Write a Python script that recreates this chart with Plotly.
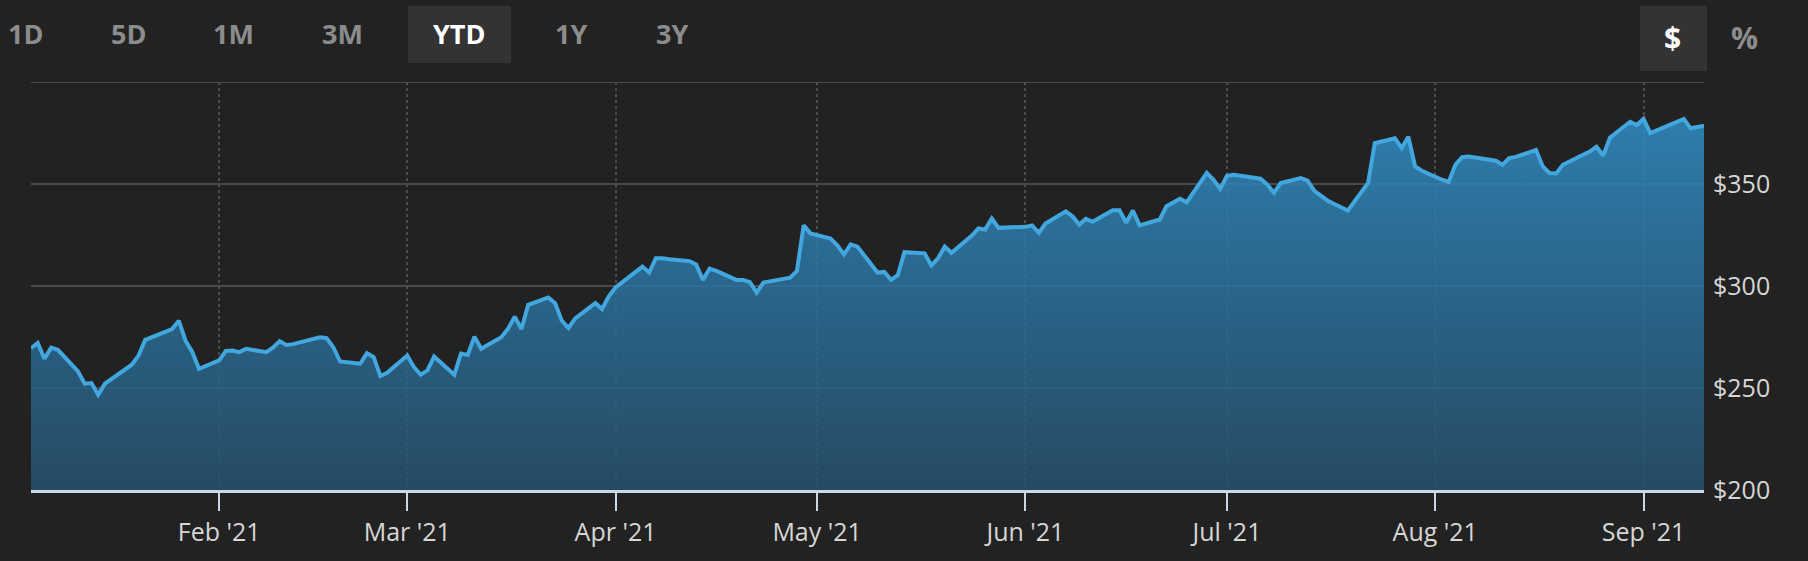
import plotly.graph_objects as go

# ---------------- data ----------------
dates = [
    "2021-01-04", "2021-01-05", "2021-01-06", "2021-01-07", "2021-01-08",
    "2021-01-11", "2021-01-12", "2021-01-13", "2021-01-14", "2021-01-15",
    "2021-01-19", "2021-01-20", "2021-01-21", "2021-01-22", "2021-01-25",
    "2021-01-26", "2021-01-27", "2021-01-28", "2021-01-29",
    "2021-02-01", "2021-02-02", "2021-02-03", "2021-02-04", "2021-02-05",
    "2021-02-08", "2021-02-09", "2021-02-10", "2021-02-11", "2021-02-12",
    "2021-02-16", "2021-02-17", "2021-02-18", "2021-02-19", "2021-02-22",
    "2021-02-23", "2021-02-24", "2021-02-25", "2021-02-26",
    "2021-03-01", "2021-03-02", "2021-03-03", "2021-03-04", "2021-03-05",
    "2021-03-08", "2021-03-09", "2021-03-10", "2021-03-11", "2021-03-12",
    "2021-03-15", "2021-03-16", "2021-03-17", "2021-03-18", "2021-03-19",
    "2021-03-22", "2021-03-23", "2021-03-24", "2021-03-25", "2021-03-26",
    "2021-03-29", "2021-03-30", "2021-03-31",
    "2021-04-01", "2021-04-05", "2021-04-06", "2021-04-07", "2021-04-08",
    "2021-04-09", "2021-04-12", "2021-04-13", "2021-04-14", "2021-04-15",
    "2021-04-16", "2021-04-19", "2021-04-20", "2021-04-21", "2021-04-22",
    "2021-04-23", "2021-04-26", "2021-04-27", "2021-04-28", "2021-04-29",
    "2021-04-30",
    "2021-05-03", "2021-05-04", "2021-05-05", "2021-05-06", "2021-05-07",
    "2021-05-10", "2021-05-11", "2021-05-12", "2021-05-13", "2021-05-14",
    "2021-05-17", "2021-05-18", "2021-05-19", "2021-05-20", "2021-05-21",
    "2021-05-24", "2021-05-25", "2021-05-26", "2021-05-27", "2021-05-28",
    "2021-06-01", "2021-06-02", "2021-06-03", "2021-06-04", "2021-06-07",
    "2021-06-08", "2021-06-09", "2021-06-10", "2021-06-11", "2021-06-14",
    "2021-06-15", "2021-06-16", "2021-06-17", "2021-06-18", "2021-06-21",
    "2021-06-22", "2021-06-23", "2021-06-24", "2021-06-25", "2021-06-28",
    "2021-06-29", "2021-06-30",
    "2021-07-01", "2021-07-02", "2021-07-06", "2021-07-07", "2021-07-08",
    "2021-07-09", "2021-07-12", "2021-07-13", "2021-07-14", "2021-07-15",
    "2021-07-16", "2021-07-19", "2021-07-20", "2021-07-21", "2021-07-22",
    "2021-07-23", "2021-07-26", "2021-07-27", "2021-07-28", "2021-07-29",
    "2021-07-30",
    "2021-08-02", "2021-08-03", "2021-08-04", "2021-08-05", "2021-08-06",
    "2021-08-09", "2021-08-10", "2021-08-11", "2021-08-12", "2021-08-13",
    "2021-08-16", "2021-08-17", "2021-08-18", "2021-08-19", "2021-08-20",
    "2021-08-23", "2021-08-24", "2021-08-25", "2021-08-26", "2021-08-27",
    "2021-08-30", "2021-08-31",
    "2021-09-01", "2021-09-02", "2021-09-03", "2021-09-07", "2021-09-08",
    "2021-09-09", "2021-09-10",
]

prices = [
    269.5, 272.1, 264.3, 269.8, 268.7,
    258.1, 252.1, 252.4, 246.7, 252.1,
    261.4, 265.9, 273.6, 275.0, 278.9,
    283.0, 273.2, 267.7, 259.4,
    263.5, 268.2, 268.4, 267.6, 269.2,
    267.6, 269.8, 272.9, 271.1, 271.5,
    274.9, 274.4, 270.0, 263.0, 261.9,
    267.1, 265.1, 255.9, 257.5,
    265.9, 260.2, 256.5, 258.6, 265.4,
    256.5, 266.9, 266.2, 275.2, 269.2,
    274.9, 279.1, 284.9, 278.9, 290.8,
    294.4, 291.6, 283.0, 279.4, 284.1,
    291.6, 288.7, 294.9,
    299.3, 309.5, 306.6, 313.6, 313.6,
    313.1, 312.2, 310.6, 303.0, 308.5,
    307.4, 303.0, 303.0, 301.9, 296.8,
    301.7, 303.5, 304.1, 307.4, 329.8,
    325.8,
    323.2, 319.9, 315.5, 320.4, 319.3,
    306.6, 306.9, 303.0, 305.3, 316.6,
    316.0, 310.1, 313.6, 319.3, 316.3,
    324.6, 328.2, 327.7, 333.1, 328.5,
    329.0, 329.7, 326.1, 330.6, 336.6,
    334.2, 330.1, 332.9, 331.5, 337.1,
    337.1, 331.0, 337.0, 329.7, 332.6,
    339.1, 340.9, 342.8, 341.0, 355.4,
    352.1, 347.6,
    354.0, 354.5, 352.6, 349.7, 345.6,
    350.5, 352.9, 351.7, 346.6, 344.0,
    341.8, 337.0, 341.5, 346.1, 350.5,
    370.0, 372.4, 367.6, 373.2, 358.6,
    356.5,
    352.1, 351.0, 359.4, 363.2, 363.5,
    361.9, 361.4, 359.4, 362.7, 363.3,
    366.7, 358.6, 355.4, 355.2, 359.4,
    364.3, 365.9, 368.3, 364.0, 372.7,
    380.5, 378.9,
    381.9, 374.9, 376.2, 381.9, 377.3,
    378.0, 378.6,
]

range_buttons = ["1D", "5D", "1M", "3M", "YTD", "1Y", "3Y"]
active_range = "YTD"
unit_buttons = ["$", "%"]
active_unit = "$"

y_tick_values = [200, 250, 300, 350, 400]
y_tick_labels = ["$200", "$250", "$300", "$350", ""]

month_ticks = ["2021-02-01", "2021-03-01", "2021-04-01", "2021-05-01",
               "2021-06-01", "2021-07-01", "2021-08-01", "2021-09-01"]
month_labels = ["Feb '21", "Mar '21", "Apr '21", "May '21",
                "Jun '21", "Jul '21", "Aug '21", "Sep '21"]

x_range = ["2021-01-04", "2021-09-10"]
y_range = [200, 400]

# ---------------- layout geometry (pixels) ----------------
W, H = 1808, 561
L, R, T, B = 31, 1704, 82, 490
BG = "#222222"
GRID = "#4a4a4a"
FONT = "Open Sans, Noto Sans, DejaVu Sans, sans-serif"


def px_x(x):
    return (x - L) / (R - L)


def px_y(y):
    return (B - y) / (B - T)


fig = go.Figure()
fig.add_trace(go.Scatter(
    x=dates, y=prices, mode="lines",
    line=dict(color="#42a7df", width=4),
    fill="tozeroy",
    fillgradient=dict(
        type="vertical",
        start=200, stop=392,
        colorscale=[[0, "rgba(38,82,111,0.84)"], [1, "rgba(48,143,200,0.86)"]],
    ),
    hoverinfo="skip",
    showlegend=False,
))

# button boxes and labels
range_centers = [25, 128, 233, 342, 459, 571, 672]
unit_centers = [1672, 1744]
shapes = [
    dict(type="rect", xref="paper", yref="paper",
         x0=px_x(408), x1=px_x(511), y0=px_y(63), y1=px_y(6),
         fillcolor="#333333", line=dict(width=0), layer="below"),
    dict(type="rect", xref="paper", yref="paper",
         x0=px_x(1640), x1=px_x(1707), y0=px_y(71), y1=px_y(6),
         fillcolor="#333333", line=dict(width=0), layer="below"),
    # top gridline at the upper end of the value range (plotly drops edge gridlines)
    dict(type="line", xref="paper", yref="y", x0=0, x1=1,
         y0=y_range[1], y1=y_range[1],
         line=dict(color=GRID, width=2), layer="below"),
]
annotations = []
for lab, cx in zip(range_buttons, range_centers):
    annotations.append(dict(
        text=f"<b>{lab}</b>", xref="paper", yref="paper",
        x=px_x(cx), y=px_y(34), xanchor="center", yanchor="middle",
        showarrow=False,
        font=dict(family=FONT, size=27,
                  color="#ffffff" if lab == active_range else "#8c8c8c"),
    ))
for lab, cx in zip(unit_buttons, unit_centers):
    annotations.append(dict(
        text=f"<b>{lab}</b>", xref="paper", yref="paper",
        x=px_x(cx), y=px_y(38), xanchor="center", yanchor="middle",
        showarrow=False,
        font=dict(family=FONT, size=30,
                  color="#ffffff" if lab == active_unit else "#8c8c8c"),
    ))

fig.update_layout(
    width=W, height=H, autosize=False,
    paper_bgcolor=BG, plot_bgcolor=BG,
    margin=dict(l=L, r=W - R, t=T, b=H - B, pad=0),
    shapes=shapes, annotations=annotations,
    font=dict(family=FONT, color="#d6d6d6", size=25),
    showlegend=False,
)
fig.update_xaxes(
    type="date", range=x_range,
    tickmode="array", tickvals=month_ticks, ticktext=month_labels,
    ticks="outside", ticklen=18, tickwidth=2, tickcolor="#cbd9e6",
    showline=True, linecolor="#cbd9e6", linewidth=3,
    showgrid=True, gridcolor="#4c4c4c", gridwidth=1.5, griddash="dot",
    zeroline=False, fixedrange=True,
    tickfont=dict(family=FONT, size=25, color="#d6d6d6"),
)
fig.update_yaxes(
    range=y_range, side="right",
    tickmode="array", tickvals=y_tick_values, ticktext=y_tick_labels,
    ticks="", showline=False, zeroline=False,
    showgrid=True, gridcolor=GRID, gridwidth=2,
    ticklabelstandoff=8, fixedrange=True,
    tickfont=dict(family=FONT, size=25, color="#d6d6d6"),
)

fig.write_html(
    "out.html",
    config=dict(displayModeBar=False),
    post_script="document.body.style.margin='0';document.body.style.overflow='hidden';"
                "document.body.style.background='#222222';",
)
